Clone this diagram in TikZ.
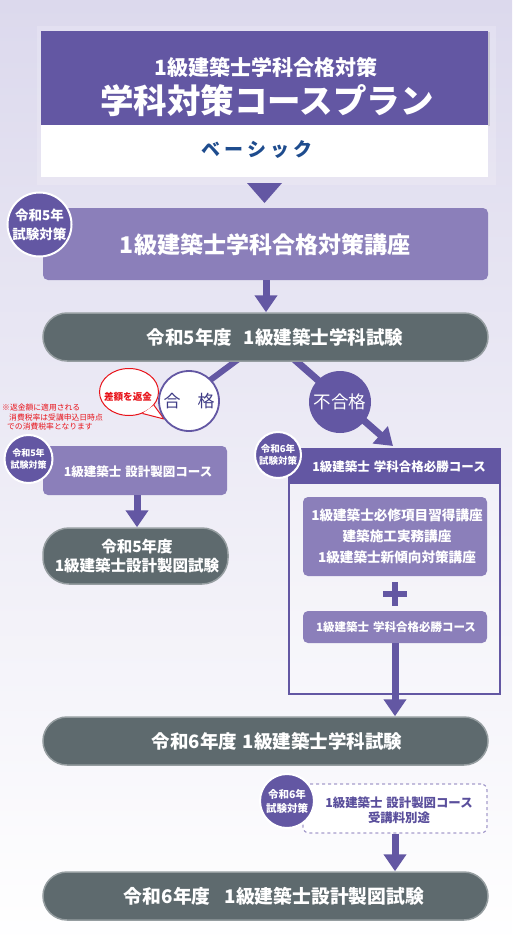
\documentclass[tikz,border=0pt]{standalone}
\usepackage{fontspec}
\setmainfont{Noto Sans CJK JP}
\usetikzlibrary{arrows.meta,shapes.geometric,shadows}
\definecolor{pur}{HTML}{6357A3}
\definecolor{lpur}{HTML}{8B7FBA}
\definecolor{gry}{HTML}{5E6A6E}
\definecolor{gryb}{HTML}{959DA0}
\definecolor{bgtop}{HTML}{DCD9ED}
\definecolor{bgmid}{HTML}{E4E2F1}
\definecolor{navy}{HTML}{1E4C8E}
\definecolor{dashc}{HTML}{A69DCC}
\definecolor{txtp}{HTML}{5A4F9C}
\definecolor{gok}{HTML}{3F3C86}
\definecolor{redc}{HTML}{E8141B}
\newcommand{\fs}[2]{\fontsize{#1}{#2}\selectfont}
\begin{document}
\begin{tikzpicture}[x=1pt,y=-1pt,
  lbl/.style={inner sep=0pt, align=center, text=white, font=\bfseries},
  exambox/.style={draw=gryb, line width=1.5pt, fill=gry, rounded corners=24pt, inner sep=0pt},
  lbox/.style={fill=lpur, rounded corners=5pt, inner sep=0pt},
  badge/.style={circle, fill=pur, draw=white, line width=2pt, inner sep=0pt, align=center, text=white, font=\bfseries},
  arr/.style={draw=pur, line width=7pt, -{Triangle[width=22pt,length=17pt]}},
  plainln/.style={draw=pur, line width=6pt}
]
\useasboundingbox (0,0) rectangle (512,947);
\shade[top color=bgtop, middle color=bgmid, bottom color=white] (0,0) rectangle (512,947);

% header
\fill[white, opacity=0.18] (37,26) rectangle (496,185);
\node[fill=pur, minimum width=447pt, minimum height=94pt, inner sep=0pt, drop shadow={shadow xshift=1.5pt, shadow yshift=-1.5pt, opacity=0.25}] (hdr) at (264.5,78) {};
\node[fill=white, minimum width=447pt, minimum height=52pt, inner sep=0pt] (hdrw) at (264.5,151) {};
\node[lbl, font=\bfseries\fs{21}{25}] (h1) at (266,67) {1級建築士学科合格対策};
\node[lbl, font=\bfseries\fs{33.5}{38}] (h2) at (267,101) {学科対策コースプラン};
\node[lbl, text=navy, font=\bfseries\fs{19}{22}] (h3) at (257,150) {ベ\hspace{4pt}ー\hspace{4pt}シ\hspace{4pt}ッ\hspace{4pt}ク};
\fill[pur] (247,183) -- (282,183) -- (264.5,203) -- cycle;

% main course
\node[lbox, minimum width=445pt, minimum height=72pt] (box2) at (265.5,244) {};
\node[lbl, font=\bfseries\fs{23}{27}] (box2t) at (265,245) {1級建築士学科合格対策講座};
\node[badge, minimum size=64pt, font=\bfseries\fs{13.5}{19}] (b1) at (39.5,224.5) {令和5年\\試験対策};

% lines from exam 1
\coordinate (gs) at (248,352);
\coordinate (ge) at (205,384);
\draw[plainln] (gs) -- (ge);
\coordinate (fs) at (287,353);
\coordinate (fe) at (393,446);
\draw[arr] (fs) -- (fe);

\node[exambox, minimum width=445pt, minimum height=48pt] (ex1) at (265.5,337) {};
\node[lbl, font=\bfseries\fs{18.5}{22}] (ex1t) at (275,337) {令和5年度\hspace{12pt}1級建築士学科試験};
\draw[arr] (box2.south -| 266,0) -- (ex1.north -| 266,0);

% pass
\node[ellipse, draw=redc, line width=1pt, fill=white, minimum width=59pt, minimum height=47pt, inner sep=0pt] (bub) at (129,392) {};
\coordinate (btip) at (164,419);
\fill[white] (bub.-58) -- (btip) -- (bub.-28) -- cycle;
\draw[redc, line width=1pt, line join=round] (bub.-58) -- (btip) -- (bub.-28);
\node[inner sep=0pt, text=redc, font=\bfseries\fs{9.6}{11}] (bubt) at (128,397) {差額を返金};
\node[circle, draw=pur, line width=1.8pt, fill=white, minimum size=60pt, inner sep=0pt, text=gok, font=\fs{17}{20}] (gk) at (189,401) {合\hspace{17pt}格};
\node[inner sep=0pt, text=redc, font=\fs{7.8}{9.8}, align=left, anchor=north west] (note) at (2,403.5) {※返金額に適用される\\\hspace{7pt}消費税率は受講申込日時点\\\hspace{5pt}での消費税率となります};

% fail
\node[circle, fill=pur, minimum size=62pt, inner sep=0pt, text=white, font=\fs{17.5}{20}] (fg) at (340,402) {不合格};

% left branch
\node[lbox, minimum width=184pt, minimum height=49pt] (dbox) at (135,470.5) {};
\node[lbl, font=\bfseries\fs{12.5}{15}] (dboxt) at (138,472) {1級建築士\hspace{4pt}設計製図コース};
\node[badge, minimum size=48pt, font=\bfseries\fs{9}{12}] (b2) at (28.5,459) {令和5年\\試験対策};
\node[exambox, minimum width=185pt, minimum height=56pt, rounded corners=26pt] (ex2) at (135.5,556) {};
\node[lbl, font=\bfseries\fs{15.5}{19}] (ex2t) at (137,556) {令和5年度\\1級建築士設計製図試験};
\draw[arr] (dbox.south -| 137,0) -- (ex2.north -| 137,0);

% right branch frame
\node[draw=pur, line width=2pt, fill=white, fill opacity=0.25, minimum width=211pt, minimum height=245pt, inner sep=0pt] (frame) at (394.5,571.5) {};
\node[fill=pur, minimum width=211pt, minimum height=35pt, inner sep=0pt] (fhdr) at (394.5,466.5) {};
\node[lbl, font=\bfseries\fs{12.5}{15}] (fhdrt) at (399,467) {1級建築士\hspace{4pt}学科合格必勝コース};
\node[badge, minimum size=46pt, font=\bfseries\fs{9.5}{12}] (b3) at (278,455) {令和6年\\試験対策};
\node[lbox, minimum width=184pt, minimum height=79pt] (in1) at (395,536.5) {};
\node[lbl, font=\bfseries\fs{13.6}{21}] (in1t) at (397,536) {1級建築士必修項目習得講座\\建築施工実務講座\\1級建築士新傾向対策講座};
\draw[pur, line width=6.5pt] (383,594) -- (407,594) (395,582) -- (395,606);
\node[lbox, minimum width=184pt, minimum height=32pt] (in2) at (395,627) {};
\node[lbl, font=\bfseries\fs{11.5}{14}] (in2t) at (396,627) {1級建築士\hspace{4pt}学科合格必勝コース};

\node[exambox, minimum width=445pt, minimum height=48pt] (ex3) at (265.5,741) {};
\node[lbl, font=\bfseries\fs{18.5}{22}] (ex3t) at (277,741) {令和6年度\hspace{6pt}1級建築士学科試験};
\draw[arr] (in2.south -| 395,0) -- (ex3.north -| 395,0);

% design course 2024
\node[draw=dashc, line width=1.2pt, dashed, fill=white, rounded corners=6pt, minimum width=184pt, minimum height=49pt, inner sep=0pt] (dsh) at (395,808.5) {};
\node[inner sep=0pt, align=center, text=txtp, font=\bfseries\fs{12.4}{15.5}] (dsht) at (399,810) {1級建築士\hspace{4pt}設計製図コース\\受講料別途};
\node[badge, minimum size=54pt, font=\bfseries\fs{10.5}{14}] (b4) at (287,801) {令和6年\\試験対策};

\node[exambox, minimum width=445pt, minimum height=48pt] (ex4) at (265.5,896) {};
\node[lbl, font=\bfseries\fs{18.8}{22}] (ex4t) at (274,896) {令和6年度\hspace{14pt}1級建築士設計製図試験};
\draw[arr] (dsh.south -| 395,0) -- (ex4.north -| 395,0);
\end{tikzpicture}
\end{document}
